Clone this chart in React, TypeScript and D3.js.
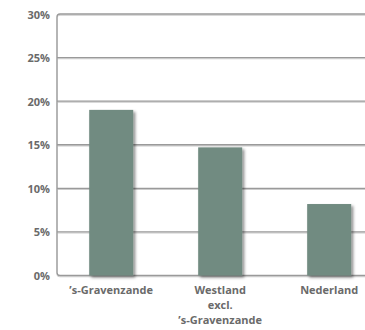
import React from "react";
import * as d3 from "d3";

// Share per area (%)
const categories = ["’s-Gravenzande", "Westland excl. ’s-Gravenzande", "Nederland"];
const categoryLines = [["’s-Gravenzande"], ["Westland", "excl.", "’s-Gravenzande"], ["Nederland"]];
const values = [19, 14.7, 8.2];
const yTicks = [0, 5, 10, 15, 20, 25, 30];

const W = 365;
const H = 330;
const left = 57;
const right = 365;
const top = 14;
const bottom = 275.5;

const FONT = "'Open Sans', 'DejaVu Sans', sans-serif";
const TEXT = "#6a6a6a";
const BAR = "#718b81";

export default function App() {
  const y = d3.scaleLinear().domain([0, 30]).range([bottom, top]);
  const x = d3
    .scaleBand<string>()
    .domain(categories)
    .range([left, right])
    .paddingInner(0.596)
    .paddingOuter(0.211)
    .align(0.7);

  const r = 3;
  const frame = `M${right},${y(30)} H${left + r} Q${left},${y(30)} ${left},${y(30) + r} V${y(0) - r} Q${left},${y(0)} ${left + r},${y(0)} H${right}`;

  return (
    <div style={{ position: "absolute", left: 0, top: 0 }}>
      <svg width={W} height={H} style={{ display: "block" }}>
        <defs>
          <filter id="barShadow" x="-20%" y="-20%" width="150%" height="150%">
            <feDropShadow dx="2" dy="2" stdDeviation="1.4" floodColor="#000" floodOpacity="0.45" />
          </filter>
          <filter id="lineShadow" x="-5%" y="-200%" width="110%" height="500%">
            <feDropShadow dx="0" dy="1" stdDeviation="0.4" floodColor="#000" floodOpacity="0.2" />
          </filter>
        </defs>
        <rect width={W} height={H} fill="#fff" />
        <g filter="url(#lineShadow)">
          {yTicks
            .filter((t) => t !== 0 && t !== 30)
            .map((t) => (
              <line key={t} x1={left} x2={right} y1={y(t)} y2={y(t)} stroke="#9a9a9a" strokeWidth={1.3} />
            ))}
          <path d={frame} fill="none" stroke="#9a9a9a" strokeWidth={1.3} />
        </g>
        {yTicks.map((t) => (
          <text
            key={t}
            x={50}
            y={y(t) + 4.5}
            textAnchor="end"
            fontFamily={FONT}
            fontWeight={700}
            fontSize={11}
            fill={TEXT}
          >
            {t}%
          </text>
        ))}
        {categories.map((c, i) => (
          <rect
            key={c}
            x={x(c)}
            y={y(values[i])}
            width={x.bandwidth()}
            height={y(0) - y(values[i])}
            fill={BAR}
            filter="url(#barShadow)"
          />
        ))}
        {categories.map((c, i) => (
          <text
            key={c}
            x={(x(c) ?? 0) + x.bandwidth() / 2}
            y={294}
            textAnchor="middle"
            fontFamily={FONT}
            fontWeight={700}
            fontSize={11}
            fill={TEXT}
          >
            {categoryLines[i].map((l, j) => (
              <tspan key={j} x={(x(c) ?? 0) + x.bandwidth() / 2} dy={j === 0 ? 0 : 15}>
                {l}
              </tspan>
            ))}
          </text>
        ))}
      </svg>
    </div>
  );
}
